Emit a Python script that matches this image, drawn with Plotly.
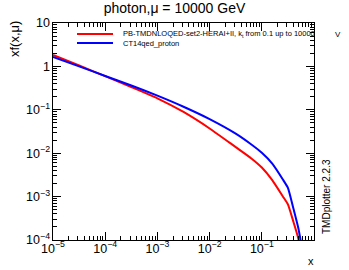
import numpy as np
import plotly.graph_objects as go

# log10(x) grid and log10(xf) values
logx = [-5, -4.5, -4, -3.5, -3, -2.5, -2, -1.5, -1.2, -1.0, -0.8, -0.6, -0.5, -0.4, -0.3, -0.2]
logy_pb = [0.263, 0.02, -0.225, -0.475, -0.735, -1.05, -1.43, -1.86, -2.12, -2.33, -2.62, -2.99, -3.18, -3.56, -3.97, -4.7]
logy_ct14 = [0.22, 0.0, -0.22, -0.44, -0.675, -0.93, -1.215, -1.55, -1.80, -1.99, -2.24, -2.60, -2.80, -3.25, -3.73, -4.4]

name_pb = "PB-TMDNLOQED-set2-HERAI+II, k<sub>t</sub> from 0.1 up to 10000"
name_ct = "CT14qed_proton"
colors = ["#ff0000", "#0000ff"]

x = [10 ** v for v in logx]
y_pb = [10 ** v for v in logy_pb]
y_ct = [10 ** v for v in logy_ct14]

W, H = 349, 270
L, R, T, B = 53, 35, 23, 30
PW, PH = W - L - R, H - T - B


def px(xp):
    return (xp - L) / PW


def py(yp):
    return 1 - (yp - T) / PH


fig = go.Figure()
fig.add_trace(go.Scatter(x=x, y=y_pb, mode="lines", name=name_pb, showlegend=False,
                         line=dict(color=colors[0], width=2, shape="spline", smoothing=0.5)))
fig.add_trace(go.Scatter(x=x, y=y_ct, mode="lines", name=name_ct, showlegend=False,
                         line=dict(color=colors[1], width=2, shape="spline", smoothing=0.5)))

axis_common = dict(type="log", showgrid=False, zeroline=False, showline=True,
                   linecolor="black", linewidth=1, mirror="allticks",
                   ticks="inside", ticklen=8, tickcolor="black",
                   exponentformat="power", dtick=1,
                   tickfont=dict(family="Liberation Sans, Arial", size=10, color="black"),
                   minor=dict(ticks="inside", ticklen=4, tickcolor="black", showgrid=False))

fig.update_xaxes(range=[-5, -0.0005], ticklabelstandoff=-3, **axis_common)
fig.update_yaxes(range=[-4, 1], **axis_common)

# manual legend (ROOT style, compact rows)
shapes = []
annotations = []
for i, (nm, c) in enumerate(zip([name_pb, name_ct], colors)):
    yy = 34 + 9 * i
    shapes.append(dict(type="line", xref="paper", yref="paper",
                       x0=px(77), x1=px(113), y0=py(yy), y1=py(yy),
                       line=dict(color=c, width=2)))
    annotations.append(dict(text=nm, xref="paper", yref="paper", x=px(121), y=py(yy),
                            xanchor="left", yanchor="middle", showarrow=False,
                            font=dict(size=7.5)))

annotations += [
    dict(text="xf(x,\u03bc)", textangle=-90, xref="paper", yref="paper",
         x=px(14), y=py(39), showarrow=False, xanchor="center", yanchor="middle",
         font=dict(size=13)),
    dict(text="x", xref="paper", yref="paper", x=px(311), y=py(261),
         showarrow=False, xanchor="center", yanchor="middle", font=dict(size=11)),
    dict(text="TMDplotter 2.2.3", textangle=-90, xref="paper", yref="paper",
         x=px(326), y=py(197), showarrow=False, xanchor="center", yanchor="middle",
         font=dict(size=10)),
    dict(text="V", xref="paper", yref="paper", x=px(338), y=py(34),
         showarrow=False, xanchor="center", yanchor="middle", font=dict(size=8)),
]

fig.update_layout(
    width=W, height=H,
    margin=dict(l=L, r=R, t=T, b=B),
    paper_bgcolor="white", plot_bgcolor="white",
    font=dict(family="Liberation Sans, Arial", color="black"),
    title=dict(text="photon,\u03bc = 10000 GeV", x=0.5, xanchor="center",
               y=1 - 8 / H, yanchor="middle", font=dict(size=14)),
    showlegend=False,
    hovermode=False,
    shapes=shapes,
    annotations=annotations,
)

fig.write_html("out.html", config={"displayModeBar": False, "staticPlot": True},
               post_script="document.body.style.margin='0';document.body.style.overflow='hidden';")
